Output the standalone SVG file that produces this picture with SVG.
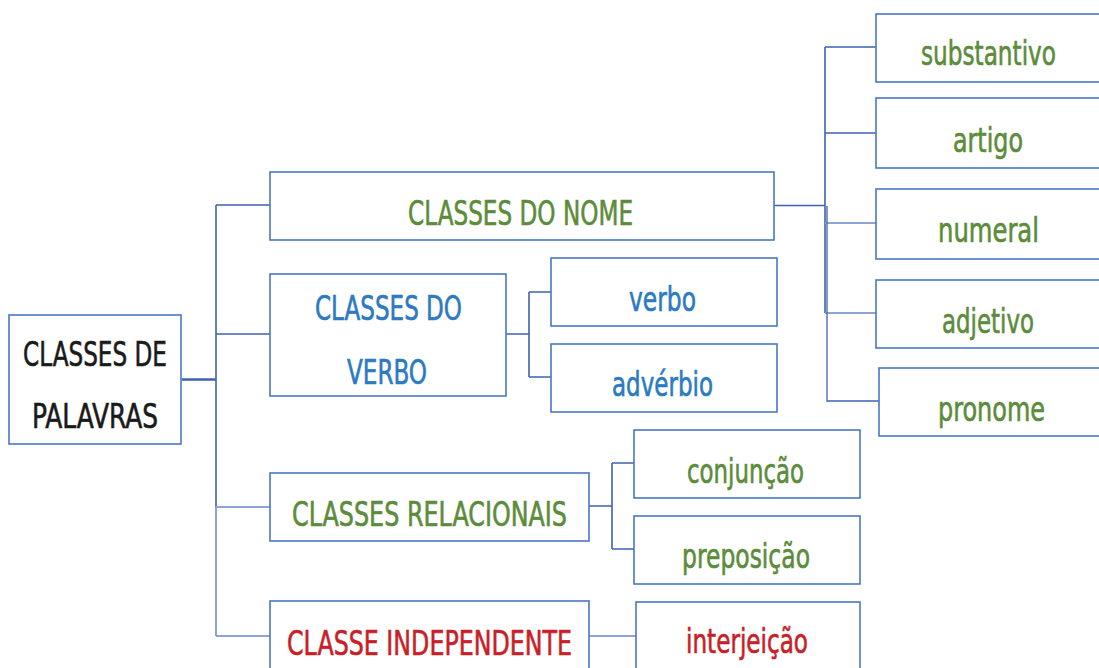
<svg xmlns="http://www.w3.org/2000/svg" width="1099" height="668" viewBox="0 0 1099 668">
<style>
.box{fill:#ffffff;stroke:#4a76c8;stroke-width:1.6}
.t{font-family:"Liberation Sans Narrow","DejaVu Sans Condensed","Roboto Condensed","Liberation Sans",sans-serif;font-size:33px;stroke-width:0.6}
.g{fill:#5c8c3b;stroke:#5c8c3b}
.b{fill:#2b7ac2;stroke:#2b7ac2}
.r{fill:#c81f28;stroke:#c81f28}
.k{fill:#1a1a1a;stroke:#1a1a1a}
.c{fill:none;stroke:#3f62b0;stroke-width:1.6}
.cl{fill:none;stroke:#8ea4d4;stroke-width:2}
</style>
<rect width="1099" height="668" fill="#ffffff"/>
<g id="connectors">
<path class="c" d="M182 379.5H216" style="stroke-width:2.6"/>
<path class="c" d="M216 205V507"/>
<path class="cl" d="M216 507V636"/>
<path class="c" d="M216 205H270M216 334H270"/>
<path class="cl" d="M216 507H270M216 636H270"/>
<path class="c" d="M774 205.5H825M825 47V313M825 47H876M825 133H876"/>
<path class="cl" d="M825 223H876M825 313H876"/>
<path class="c" d="M827 206V401H879" style="stroke-width:1.3"/>
<path class="c" d="M506 334H529M529 292V377M529 292H551M529 377H551"/>
<path class="c" d="M589 506H612M612 463V549M612 463H634M612 549H634"/>
<path class="cl" d="M589 636H636"/>
</g>
<g id="root"><rect class="box" x="9" y="315" width="172" height="129"/>
<text class="t k" x="23" y="366" textLength="144" lengthAdjust="spacingAndGlyphs">CLASSES DE</text>
<text class="t k" x="32" y="428" textLength="126" lengthAdjust="spacingAndGlyphs">PALAVRAS</text></g>
<g id="nome"><rect class="box" x="270" y="172" width="504" height="68"/>
<text class="t g" x="408" y="225" textLength="225" lengthAdjust="spacingAndGlyphs">CLASSES DO NOME</text></g>
<g id="verbo-cl"><rect class="box" x="270" y="274" width="236" height="122"/>
<text class="t b" x="315" y="320" textLength="147" lengthAdjust="spacingAndGlyphs">CLASSES DO</text>
<text class="t b" x="347" y="384" textLength="80" lengthAdjust="spacingAndGlyphs">VERBO</text></g>
<g id="relacionais"><rect class="box" x="270" y="473" width="319" height="68"/>
<text class="t g" x="292" y="526" textLength="275" lengthAdjust="spacingAndGlyphs">CLASSES RELACIONAIS</text></g>
<g id="independente"><rect class="box" x="270" y="601" width="319" height="80"/>
<text class="t r" x="287" y="655" textLength="285" lengthAdjust="spacingAndGlyphs">CLASSE INDEPENDENTE</text></g>
<g id="substantivo"><rect class="box" x="876" y="14" width="240" height="68"/>
<text class="t g" x="921" y="65" textLength="135" lengthAdjust="spacingAndGlyphs">substantivo</text></g>
<g id="artigo"><rect class="box" x="876" y="98" width="240" height="70"/>
<text class="t g" x="953" y="152" textLength="70" lengthAdjust="spacingAndGlyphs">artigo</text></g>
<g id="numeral"><rect class="box" x="876" y="189" width="240" height="70"/>
<text class="t g" x="938" y="242" textLength="101" lengthAdjust="spacingAndGlyphs">numeral</text></g>
<g id="adjetivo"><rect class="box" x="876" y="280" width="240" height="68"/>
<text class="t g" x="942" y="333" textLength="92" lengthAdjust="spacingAndGlyphs">adjetivo</text></g>
<g id="pronome"><rect class="box" x="879" y="368" width="240" height="68"/>
<text class="t g" x="938" y="421" textLength="107" lengthAdjust="spacingAndGlyphs">pronome</text></g>
<g id="verbo"><rect class="box" x="551" y="258" width="226" height="68"/>
<text class="t b" x="629" y="311" textLength="67" lengthAdjust="spacingAndGlyphs">verbo</text></g>
<g id="adverbio"><rect class="box" x="551" y="344" width="226" height="68"/>
<text class="t b" x="612" y="396" textLength="101" lengthAdjust="spacingAndGlyphs">advérbio</text></g>
<g id="conjuncao"><rect class="box" x="634" y="430" width="226" height="68"/>
<text class="t g" x="687" y="483" textLength="117" lengthAdjust="spacingAndGlyphs">conjunção</text></g>
<g id="preposicao"><rect class="box" x="634" y="516" width="226" height="68"/>
<text class="t g" x="682" y="568" textLength="128" lengthAdjust="spacingAndGlyphs">preposição</text></g>
<g id="interjeicao"><rect class="box" x="636" y="602" width="224" height="80"/>
<text class="t r" x="686" y="653" textLength="122" lengthAdjust="spacingAndGlyphs">interjeição</text></g>
</svg>
